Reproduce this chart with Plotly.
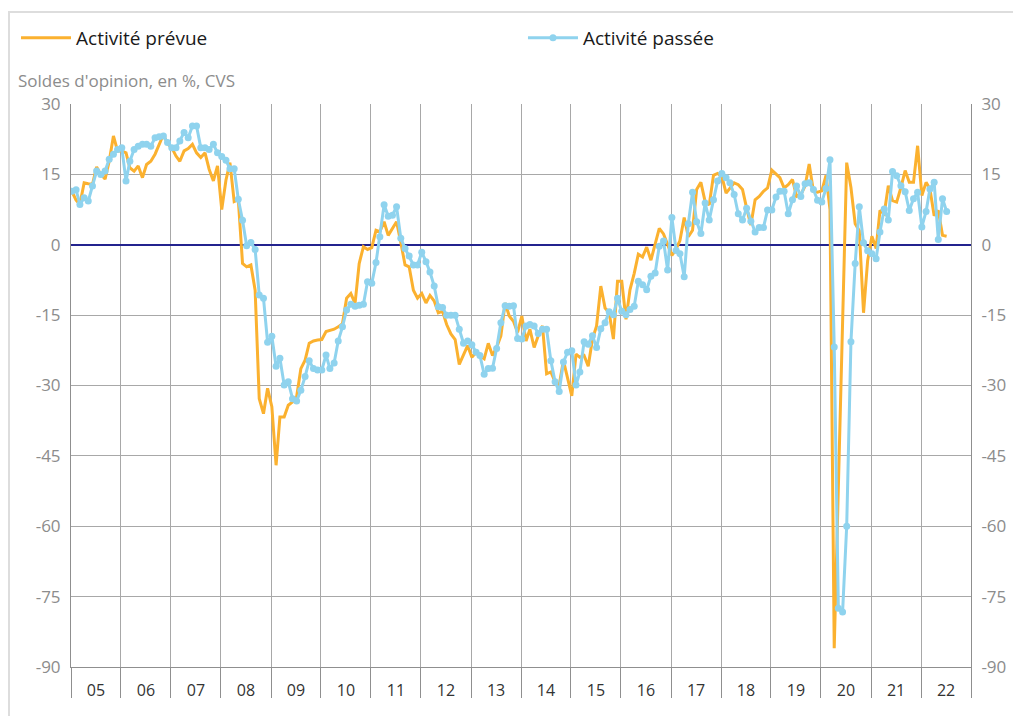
import pandas as pd
import plotly.graph_objects as go

# Monthly series, January 2005 to July 2022 (soldes d'opinion, en %, CVS)
activite_prevue = [
    # 2005
    11.4, 9.5, 8.6, 13.2, 13.0, 12.9, 16.6, 15.0, 14.0, 17.8, 23.2, 20.0,
    # 2006
    20.0, 19.6, 16.4, 15.7, 16.8, 14.3, 17.1, 17.8, 19.3, 21.4, 23.5, 21.5,
    # 2007
    20.7, 18.9, 17.8, 20.0, 20.5, 21.4, 19.6, 18.6, 19.6, 16.1, 13.6, 16.8,
    # 2008
    7.5, 13.8, 17.5, 9.2, 9.6, -4.0, -4.7, -4.3, -9.7, -32.8, -36.0, -30.6,
    # 2009
    -34.5, -47.0, -36.7, -36.7, -34.2, -33.5, -32.4, -26.4, -24.6, -21.0, -20.5, -20.3,
    # 2010
    -20.2, -18.5, -18.2, -18.0, -17.5, -16.8, -11.4, -10.4, -12.5, -4.0, -0.4, -1.0,
    # 2011
    -0.6, 3.1, 2.8, 4.9, 2.0, 3.5, 4.9, 0.5, -4.3, -4.7, -9.7, -11.4,
    # 2012
    -10.4, -12.4, -10.8, -12.0, -14.5, -14.2, -17.0, -19.0, -20.2, -25.5, -23.3, -21.5,
    # 2013
    -24.0, -22.9, -23.6, -24.3, -21.0, -23.6, -21.9, -19.4, -12.4, -15.2, -16.3, -18.7,
    # 2014
    -15.2, -20.5, -18.0, -21.9, -19.4, -17.3, -27.5, -27.1, -29.2, -29.9, -24.7, -28.5,
    # 2015
    -32.2, -23.3, -24.0, -23.6, -25.9, -20.1, -17.3, -8.8, -13.5, -14.5, -20.1, -7.8,
    # 2016
    -7.8, -15.9, -9.6, -6.1, -2.0, -2.6, -0.5, -3.3, 0.2, 3.5, 2.3, 0.2,
    # 2017
    -2.3, -0.9, 0.9, 5.8, 1.7, 3.1, 11.8, 13.3, 9.2, 8.5, 14.8, 15.2,
    # 2018
    14.6, 11.0, 12.1, 13.2, 12.8, 11.8, 7.8, 4.2, 9.6, 10.3, 11.4, 12.1,
    # 2019
    15.9, 15.0, 14.3, 12.1, 12.8, 13.9, 10.3, 10.7, 12.5, 17.2, 11.4, 11.2,
    # 2020
    11.5, 14.8, 7.5, -86.0, -51.0, -17.0, 17.5, 12.2, 4.5, 3.0, -14.5, -3.4,
    # 2021
    1.8, -0.8, 7.3, 6.6, 12.6, 9.4, 9.1, 12.2, 15.8, 13.3, 13.3, 21.1,
    # 2022
    10.5, 13.3, 11.9, 6.2, 7.3, 2.0, 1.8,
]

activite_passee = [
    # 2005
    11.4, 11.7, 8.6, 10.0, 9.3, 12.5, 15.7, 15.0, 15.7, 18.2, 19.3, 20.3,
    # 2006
    20.7, 13.6, 17.8, 20.3, 21.0, 21.4, 21.4, 21.0, 22.8, 23.0, 23.2, 21.8,
    # 2007
    20.7, 20.7, 22.1, 23.9, 22.8, 25.3, 25.3, 20.7, 20.7, 20.3, 21.4, 19.6,
    # 2008
    18.8, 18.0, 16.2, 16.2, 9.7, 5.2, -0.2, 0.5, -1.0, -10.7, -11.4, -20.8,
    # 2009
    -19.5, -25.9, -24.2, -29.9, -29.2, -32.8, -33.3, -31.0, -28.1, -24.7, -26.4, -26.7,
    # 2010
    -26.7, -23.5, -26.4, -25.2, -20.5, -17.5, -13.9, -12.7, -13.1, -12.9, -12.7, -7.9,
    # 2011
    -8.2, -3.8, 1.7, 8.5, 6.1, 6.3, 8.1, 1.4, -0.8, -2.4, -4.3, -4.3,
    # 2012
    -1.6, -3.6, -5.8, -8.8, -13.2, -13.4, -15.0, -15.0, -15.0, -18.0, -21.0, -20.5,
    # 2013
    -21.3, -22.9, -23.6, -27.6, -26.4, -26.3, -22.1, -16.6, -13.0, -13.1, -13.0, -20.0,
    # 2014
    -20.1, -17.3, -17.0, -17.3, -18.9, -18.0, -18.0, -24.7, -29.2, -31.3, -25.0, -22.9,
    # 2015
    -22.6, -29.9, -27.1, -20.7, -21.2, -19.4, -21.9, -17.9, -16.6, -14.3, -14.9, -11.4,
    # 2016
    -14.2, -14.9, -13.8, -13.1, -7.8, -8.5, -9.6, -6.7, -6.0, -0.3, 0.8, -5.4,
    # 2017
    5.8, -1.2, -1.9, -6.8, 4.5, 11.2, 4.9, 2.4, 8.9, 5.3, 9.6, 13.6,
    # 2018
    15.2, 14.3, 13.2, 10.7, 6.6, 5.3, 7.8, 5.0, 2.7, 3.7, 3.7, 7.4,
    # 2019
    7.4, 10.2, 11.4, 11.4, 6.6, 9.6, 12.5, 10.3, 13.0, 13.2, 11.8, 9.5,
    # 2020
    9.1, 12.0, 18.1, -21.8, -77.5, -78.3, -60.0, -20.7, -4.0, 8.1, 0.4, -1.3,
    # 2021
    -1.9, -3.0, 2.7, 7.6, 5.3, 15.6, 14.7, 12.6, 11.3, 7.3, 9.8, 11.2,
    # 2022
    3.8, 7.1, 11.9, 13.3, 1.1, 9.8, 7.1,
]

mois = pd.date_range("2005-01-01", periods=len(activite_passee), freq="MS") + pd.Timedelta(days=6)

y_ticks = [30, 15, 0, -15, -30, -45, -60, -75, -90]
y_tick_labels = ["30", "15", "0", "-15", "-30", "-45", "-60", "-75", "-90"]

ORANGE = "#FBB12F"
BLUE = "#8FD3EE"
GRID = "#A8A8A8"
LABEL_GREY = "#8C8C8C"

fig = go.Figure()
fig.add_trace(go.Scatter(
    x=mois, y=activite_prevue, name="Activité prévue", mode="lines",
    line=dict(color=ORANGE, width=3), legend="legend",
))
fig.add_trace(go.Scatter(
    x=mois, y=activite_passee, name="Activité passée", mode="lines+markers",
    line=dict(color=BLUE, width=3), marker=dict(color=BLUE, size=7),
    legend="legend2",
))
# invisible trace to carry the right-hand axis
fig.add_trace(go.Scatter(
    x=[mois[0]], y=[0], yaxis="y2", mode="markers",
    marker=dict(opacity=0), showlegend=False, hoverinfo="skip",
))

legend_common = dict(
    orientation="h", yanchor="top", y=1.151, xanchor="left",
    font=dict(size=19, color="#1a1a1a"), bgcolor="rgba(0,0,0,0)",
    itemwidth=50,
)

fig.update_layout(
    width=1021, height=716,
    margin=dict(l=63, r=58, t=96, b=57, autoexpand=False),
    paper_bgcolor="white", plot_bgcolor="white",
    font=dict(family="Open Sans", color="#222222"),
    showlegend=True,
    legend=dict(x=-0.0611, **legend_common),
    legend2=dict(x=0.5022, **legend_common),
    xaxis=dict(
        type="date", range=["2005-01-01", "2023-01-01"],
        tick0="2005-01-01", dtick="M12", tickformat="%y",
        ticklabelmode="period", ticks="outside", ticklen=30,
        tickcolor="#8f8f8f", tickwidth=1, ticklabelstandoff=-21,
        showgrid=True, gridcolor=GRID, gridwidth=1,
        showline=True, linecolor="#8f8f8f", linewidth=1,
        tickfont=dict(size=16, color="#333333"), automargin=False,
    ),
    yaxis=dict(
        range=[-90, 30], tickvals=y_ticks, ticktext=y_tick_labels,
        showgrid=True, gridcolor=GRID, gridwidth=1,
        zeroline=True, zerolinecolor="#23238E", zerolinewidth=2,
        showline=True, linecolor="#8f8f8f", linewidth=1,
        ticks="", ticklabelstandoff=6, automargin=False,
        tickfont=dict(size=17, color=LABEL_GREY),
    ),
    yaxis2=dict(
        range=[-90, 30], tickvals=y_ticks, ticktext=y_tick_labels,
        overlaying="y", side="right", showgrid=False, zeroline=False,
        showline=True, linecolor="#8f8f8f", linewidth=1,
        ticks="", ticklabelstandoff=6, automargin=False,
        tickfont=dict(size=17, color=LABEL_GREY),
    ),
    annotations=[dict(
        text="Soldes d'opinion, en %, CVS", xref="paper", yref="paper",
        x=-0.061, xanchor="left", y=1.0426, yanchor="middle", showarrow=False,
        font=dict(size=17, color=LABEL_GREY),
    )],
    shapes=[dict(
        type="rect", xref="paper", yref="paper", layer="below",
        x0=-0.0689, x1=1.2, y0=-0.3, y1=1.1634,
        line=dict(color="#DDDDDD", width=2), fillcolor="rgba(0,0,0,0)",
    )],
)

fig.write_html("out.html")
